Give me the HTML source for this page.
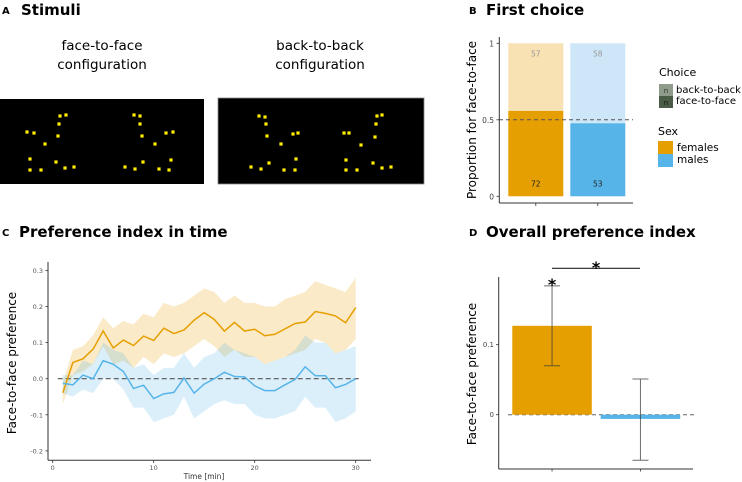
<!DOCTYPE html>
<html><head><meta charset="utf-8"><style>
html,body{margin:0;padding:0;background:#fff;}
svg{display:block;font-family:"DejaVu Sans","Liberation Sans",sans-serif;}
</style></head><body>
<svg id="fig" width="742" height="482" viewBox="0 0 742 482" xmlns="http://www.w3.org/2000/svg">
<!-- Panel A -->
<g>
<text x="2" y="14" font-size="10" font-weight="bold">A</text>
<text x="21" y="15" font-size="15" font-weight="bold">Stimuli</text>
<text x="102" y="50" font-size="13.5" text-anchor="middle">face-to-face</text>
<text x="102" y="69" font-size="13.5" text-anchor="middle">configuration</text>
<text x="320" y="50" font-size="13.5" text-anchor="middle">back-to-back</text>
<text x="320" y="69" font-size="13.5" text-anchor="middle">configuration</text>
<rect x="0" y="99" width="204" height="85" fill="#000"/>
<rect x="218" y="98" width="206" height="86" fill="#000" stroke="#888" stroke-width="0.8"/>
<g id="dots"></g>
</g>
<!-- Panel B -->
<g>
<text x="469" y="14" font-size="10" font-weight="bold">B</text>
<text x="486" y="15" font-size="15" font-weight="bold">First choice</text>
<text transform="translate(476,120) rotate(-90)" font-size="12" text-anchor="middle">Proportion for face-to-face</text>
<g id="bplot"></g>
<text x="659" y="76" font-size="11">Choice</text>
<rect x="659" y="84" width="14" height="12" fill="#8f9c8c"/>
<text x="666" y="93" font-size="7" text-anchor="middle" fill="#333">n</text>
<text x="676" y="93" font-size="10">back-to-back</text>
<rect x="659" y="96" width="14" height="12" fill="#4b5c46"/>
<text x="666" y="105" font-size="7" text-anchor="middle" fill="#111">n</text>
<text x="676" y="104" font-size="10">face-to-face</text>
<text x="658" y="135" font-size="11">Sex</text>
<rect x="658" y="141" width="15" height="13" fill="#e69f00"/>
<text x="677" y="151" font-size="10.5">females</text>
<rect x="658" y="154" width="15" height="13" fill="#56b4e9"/>
<text x="677" y="163" font-size="10.5">males</text>
</g>
<!-- Panel C -->
<g>
<text x="2" y="236" font-size="10" font-weight="bold">C</text>
<text x="19" y="237" font-size="15" font-weight="bold">Preference index in time</text>
<text transform="translate(16,363) rotate(-90)" font-size="12" text-anchor="middle">Face-to-face preference</text>
<text x="204" y="479" font-size="7.5" text-anchor="middle" fill="#333">Time [min]</text>
<g id="cplot"></g>
</g>
<!-- Panel D -->
<g>
<text x="469" y="236" font-size="10" font-weight="bold">D</text>
<text x="486" y="237" font-size="15" font-weight="bold">Overall preference index</text>
<text transform="translate(476,374) rotate(-90)" font-size="12" text-anchor="middle">Face-to-face preference</text>
<g id="dplot"></g>
</g>
</svg>
<script>
// ---- Panel A dot positions (stimulus layout)
const dotsX=[60,66,59,27,34,58,45,30,56,30,41,65,74,134,140,140,142,166,173,155,171,143,125,135,159,169,259,265,266,267,293,298,281,296,269,251,261,284,295,377,382,376,375,344,349,361,346,373,346,357,382,391];
const dotsY=[116,115,124,132,133,136,144,159,162,170,170,168,167,115,116,124,136,133,132,144,160,162,167,169,169,170,116,117,124,136,134,133,144,159,163,167,169,170,170,116,115,124,137,133,133,145,160,163,170,170,168,167];
const NS="http://www.w3.org/2000/svg";
function mk(tag,attrs,parent){const e=document.createElementNS(NS,tag);for(const k in attrs)e.setAttribute(k,attrs[k]);parent.appendChild(e);return e;}
const dg=document.getElementById('dots');
for(let i=0;i<dotsX.length;i++){
  const r=mk('rect',{x:dotsX[i]-1.6,y:dotsY[i]-1.6,width:3.2,height:3.2,fill:'#ffee00'},dg);
  
  
}

// ---- Panel B data
const bCats=['females','males'];
const bFace=[72,53];
const bBack=[57,58];
const bTicks=[0,0.5,1];
const bTickLabels=['0','0.5','1'];
const bDark=['#e69f00','#56b4e9'];
const bLight=['#f8e1b3','#cde7f8'];
(function(){
  const g=document.getElementById('bplot');
  const y=v=>196.3-v*153; const x0=[508.3,570.3], w=55;
  for(let i=0;i<bCats.length;i++){
    const p=bFace[i]/(bFace[i]+bBack[i]);
    const t=mk('rect',{x:x0[i],y:y(1),width:w,height:y(p)-y(1),fill:bLight[i]},g);
    
    
    const b=mk('rect',{x:x0[i],y:y(p),width:w,height:y(0)-y(p),fill:bDark[i]},g);
    
    
    const t1=mk('text',{x:x0[i]+w/2,y:y(1)+13,'font-size':7.5,'text-anchor':'middle',fill:'#999'},g);t1.textContent=bBack[i];
    
    
    const t2=mk('text',{x:x0[i]+w/2,y:y(0)-10,'font-size':7.5,'text-anchor':'middle',fill:'#222'},g);t2.textContent=bFace[i];
    
    
    mk('line',{x1:x0[i]+w/2,x2:x0[i]+w/2,y1:203,y2:206,stroke:'#333','stroke-width':0.8},g);
  }
  const dl=mk('line',{x1:499,x2:633,y1:y(0.5),y2:y(0.5),stroke:'#555','stroke-width':1,'stroke-dasharray':'4,3'},g);
  
  
  const ya=mk('line',{x1:499.3,x2:499.3,y1:37,y2:203,stroke:'#333','stroke-width':1},g);
  
  
  const xa=mk('line',{x1:499.3,x2:633,y1:203,y2:203,stroke:'#333','stroke-width':1},g);
  
  
  bTicks.forEach((v,i)=>{
    mk('line',{x1:496.5,x2:499.3,y1:y(v),y2:y(v),stroke:'#333','stroke-width':0.8},g);
    const t=mk('text',{x:494,y:y(v)+3,'font-size':7.5,'text-anchor':'end',fill:'#444'},g);t.textContent=bTickLabels[i];
    
    
  });
})();

// ---- Panel C data
const cMinutes=[1,2,3,4,5,6,7,8,9,10,11,12,13,14,15,16,17,18,19,20,21,22,23,24,25,26,27,28,29,30];
const cFemMean=[-0.039,0.045,0.055,0.082,0.132,0.085,0.107,0.092,0.118,0.106,0.14,0.125,0.135,0.162,0.183,0.164,0.132,0.156,0.132,0.137,0.119,0.123,0.138,0.153,0.157,0.186,0.181,0.174,0.155,0.197];
const cFemLo=[-0.07,0.01,0.02,0.04,0.09,0.04,0.05,0.03,0.06,0.04,0.07,0.06,0.07,0.09,0.11,0.09,0.06,0.08,0.06,0.06,0.04,0.05,0.06,0.07,0.08,0.11,0.1,0.07,0.08,0.11];
const cFemHi=[-0.01,0.08,0.09,0.12,0.17,0.14,0.16,0.15,0.18,0.17,0.21,0.2,0.21,0.23,0.25,0.24,0.21,0.23,0.21,0.21,0.2,0.2,0.22,0.23,0.24,0.27,0.26,0.25,0.24,0.28];
const cMaleMean=[-0.013,-0.017,0.01,0.0,0.05,0.04,0.02,-0.027,-0.018,-0.055,-0.042,-0.038,0.002,-0.04,-0.015,0.0,0.018,0.006,0.005,-0.02,-0.033,-0.033,-0.017,-0.002,0.033,0.008,0.008,-0.025,-0.016,0.0];
const cMaleLo=[-0.04,-0.05,-0.03,-0.04,0.0,0.0,-0.03,-0.08,-0.08,-0.12,-0.11,-0.1,-0.05,-0.11,-0.09,-0.07,-0.06,-0.07,-0.07,-0.1,-0.11,-0.11,-0.1,-0.09,-0.05,-0.08,-0.08,-0.12,-0.11,-0.09];
const cMaleHi=[0.01,0.01,0.05,0.04,0.1,0.08,0.07,0.03,0.04,0.01,0.03,0.03,0.07,0.03,0.06,0.07,0.1,0.08,0.07,0.06,0.04,0.05,0.06,0.08,0.12,0.1,0.1,0.07,0.08,0.09];
const cYTicks=[-0.2,-0.1,0,0.1,0.2,0.3];
const cYTickLabels=['-0.2','-0.1','0.0','0.1','0.2','0.3'];
const cXTicks=[0,10,20,30];
(function(){
  const g=document.getElementById('cplot');
  const x=v=>52.7+v*10.1, y=v=>378.7-v*361;
  function band(lo,hi,fill,name){
    let d='M'+cMinutes.map((m,i)=>x(m)+','+y(hi[i])).join('L');
    for(let i=cMinutes.length-1;i>=0;i--)d+='L'+x(cMinutes[i])+','+y(lo[i]);
    const p=mk('path',{d:d+'Z',fill:fill},g);
    
    
  }
  band(cFemLo,cFemHi,'rgba(230,159,0,0.22)','females-ci-band');
  band(cMaleLo,cMaleHi,'rgba(86,180,233,0.22)','males-ci-band');
  const dl=mk('line',{x1:x(0.5),x2:x(30.5),y1:y(0),y2:y(0),stroke:'#555','stroke-width':1.2,'stroke-dasharray':'5,3'},g);
  
  
  function line(v,c,name){
    const p=mk('polyline',{points:cMinutes.map((m,i)=>x(m)+','+y(v[i])).join(' '),fill:'none',stroke:c,'stroke-width':1.5},g);
    
    
  }
  line(cFemMean,'#e69f00','females-line');
  line(cMaleMean,'#56b4e9','males-line');
  const ya=mk('line',{x1:48,x2:48,y1:262,y2:460.3,stroke:'#333','stroke-width':1},g);
  
  
  const xa=mk('line',{x1:48,x2:371,y1:460.3,y2:460.3,stroke:'#333','stroke-width':1},g);
  
  
  cYTicks.forEach((v,i)=>{
    mk('line',{x1:45.5,x2:48,y1:y(v),y2:y(v),stroke:'#333','stroke-width':0.8},g);
    const t=mk('text',{x:43,y:y(v)+2.5,'font-size':6.5,'text-anchor':'end',fill:'#555'},g);t.textContent=cYTickLabels[i];
    
    
  });
  cXTicks.forEach(v=>{
    mk('line',{x1:x(v),x2:x(v),y1:460.3,y2:463,stroke:'#333','stroke-width':0.8},g);
    const t=mk('text',{x:x(v),y:470,'font-size':6.5,'text-anchor':'middle',fill:'#555'},g);t.textContent=v;
    
    
  });
})();

// ---- Panel D data
const dCats=['females','males'];
const dMeans=[0.127,-0.006];
const dLo=[0.07,-0.065];
const dHi=[0.184,0.051];
const dYTicks=[0,0.1];
const dYTickLabels=['0','0.1'];
const dColors=['#e69f00','#56b4e9'];
(function(){
  const g=document.getElementById('dplot');
  const y=v=>414.7-v*700; const x0=[512.3,600.7], w=79.5;
  const dl=mk('line',{x1:508,x2:694,y1:y(0),y2:y(0),stroke:'#666','stroke-width':1,'stroke-dasharray':'4,3'},g);
  
  
  for(let i=0;i<dCats.length;i++){
    const top=Math.min(y(0),y(dMeans[i])), h=Math.abs(y(dMeans[i])-y(0));
    const b=mk('rect',{x:x0[i],y:top,width:w,height:Math.max(h,0.5),fill:dColors[i]},g);
    
    
    const cx=x0[i]+w/2;
    const e=mk('path',{d:`M${cx},${y(dHi[i])}V${y(dLo[i])}M${cx-8},${y(dHi[i])}H${cx+8}M${cx-8},${y(dLo[i])}H${cx+8}`,stroke:'rgba(60,60,60,0.75)','stroke-width':1,fill:'none'},g);
    
    
    mk('line',{x1:cx,x2:cx,y1:469,y2:471.5,stroke:'#333','stroke-width':0.8},g);
  }
  const sb=mk('line',{x1:552,x2:640,y1:268.3,y2:268.3,stroke:'#222','stroke-width':1.2},g);
  
  
  const s1=mk('text',{x:596,y:273,'font-size':16,'font-weight':'bold','text-anchor':'middle'},g);s1.textContent='*';
  
  
  const s2=mk('text',{x:552,y:290,'font-size':16,'font-weight':'bold','text-anchor':'middle'},g);s2.textContent='*';
  
  
  const ya=mk('line',{x1:498.7,x2:498.7,y1:277,y2:469,stroke:'#333','stroke-width':1},g);
  
  
  const xa=mk('line',{x1:498.7,x2:693,y1:469,y2:469,stroke:'#333','stroke-width':1},g);
  
  
  dYTicks.forEach((v,i)=>{
    mk('line',{x1:496,x2:498.7,y1:y(v),y2:y(v),stroke:'#333','stroke-width':0.8},g);
    const t=mk('text',{x:494,y:y(v)+2.5,'font-size':7,'text-anchor':'end',fill:'#444'},g);t.textContent=dYTickLabels[i];
    
    
  });
})();
</script>
</body></html>
